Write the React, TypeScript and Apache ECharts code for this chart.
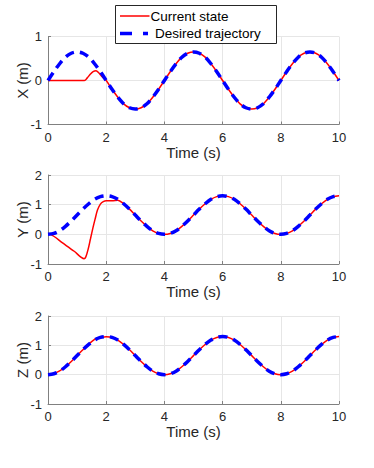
import { useEffect, useRef } from "react";
import * as echarts from "echarts";

// Common time grid (s) for the desired trajectories
const timeGrid = [
  0, 0.2, 0.4, 0.6, 0.8, 1, 1.2, 1.4, 1.6, 1.8, 2, 2.2, 2.4, 2.6, 2.8, 3, 3.2, 3.4, 3.6, 3.8,
  4, 4.2, 4.4, 4.6, 4.8, 5, 5.2, 5.4, 5.6, 5.8, 6, 6.2, 6.4, 6.6, 6.8, 7, 7.2, 7.4, 7.6, 7.8,
  8, 8.2, 8.4, 8.6, 8.8, 9, 9.2, 9.4, 9.6, 9.8, 10,
];

const xDesired = [
  0, 0.2, 0.38, 0.53, 0.62, 0.65, 0.62, 0.53, 0.38, 0.2, 0, -0.2, -0.38, -0.53, -0.62, -0.65, -0.62, -0.53, -0.38, -0.2,
  0, 0.2, 0.38, 0.53, 0.62, 0.65, 0.62, 0.53, 0.38, 0.2, 0, -0.2, -0.38, -0.53, -0.62, -0.65, -0.62, -0.53, -0.38, -0.2,
  0, 0.2, 0.38, 0.53, 0.62, 0.65, 0.62, 0.53, 0.38, 0.2, 0,
];

const yDesired = [
  0, 0.03, 0.12, 0.27, 0.45, 0.65, 0.85, 1.03, 1.18, 1.27, 1.3, 1.27, 1.18, 1.03, 0.85, 0.65, 0.45, 0.27, 0.12, 0.03,
  0, 0.03, 0.12, 0.27, 0.45, 0.65, 0.85, 1.03, 1.18, 1.27, 1.3, 1.27, 1.18, 1.03, 0.85, 0.65, 0.45, 0.27, 0.12, 0.03,
  0, 0.03, 0.12, 0.27, 0.45, 0.65, 0.85, 1.03, 1.18, 1.27, 1.3,
];

const zDesired = [
  0, 0.03, 0.12, 0.27, 0.45, 0.65, 0.85, 1.03, 1.18, 1.27, 1.3, 1.27, 1.18, 1.03, 0.85, 0.65, 0.45, 0.27, 0.12, 0.03,
  0, 0.03, 0.12, 0.27, 0.45, 0.65, 0.85, 1.03, 1.18, 1.27, 1.3, 1.27, 1.18, 1.03, 0.85, 0.65, 0.45, 0.27, 0.12, 0.03,
  0, 0.03, 0.12, 0.27, 0.45, 0.65, 0.85, 1.03, 1.18, 1.27, 1.3,
];

// Current state (actual) trajectories
const xCurrentTime = [
  0, 1.25, 1.35, 1.45, 1.55, 1.65, 1.75, 1.85, 2, 2.2, 2.4, 2.6, 2.8, 3, 3.2, 3.4, 3.6, 3.8,
  4, 4.2, 4.4, 4.6, 4.8, 5, 5.2, 5.4, 5.6, 5.8, 6, 6.2, 6.4, 6.6, 6.8, 7, 7.2, 7.4, 7.6, 7.8,
  8, 8.2, 8.4, 8.6, 8.8, 9, 9.2, 9.4, 9.6, 9.8, 10,
];
const xCurrent = [
  0, 0, 0.06, 0.14, 0.2, 0.22, 0.17, 0.09, 0, -0.2, -0.38, -0.53, -0.62, -0.65, -0.62, -0.53, -0.38, -0.2,
  0, 0.2, 0.38, 0.53, 0.62, 0.65, 0.62, 0.53, 0.38, 0.2, 0, -0.2, -0.38, -0.53, -0.62, -0.65, -0.62, -0.53, -0.38, -0.2,
  0, 0.2, 0.38, 0.53, 0.62, 0.65, 0.62, 0.53, 0.38, 0.2, 0,
];

const yCurrentTime = [
  0, 0.1, 0.5, 0.9, 1.24, 1.3, 1.38, 1.46, 1.54, 1.62, 1.7, 1.8, 1.9, 2, 2.2, 2.4, 2.6, 2.8, 3, 3.2, 3.4, 3.6, 3.8,
  4, 4.2, 4.4, 4.6, 4.8, 5, 5.2, 5.4, 5.6, 5.8, 6, 6.2, 6.4, 6.6, 6.8, 7, 7.2, 7.4, 7.6, 7.8,
  8, 8.2, 8.4, 8.6, 8.8, 9, 9.2, 9.4, 9.6, 9.8, 10,
];
const yCurrent = [
  0, -0.01, -0.29, -0.57, -0.82, -0.76, -0.5, -0.15, 0.2, 0.52, 0.82, 1.02, 1.1, 1.13, 1.13, 1.15, 1.03, 0.85, 0.65, 0.45, 0.27, 0.12, 0.03,
  0, 0.03, 0.12, 0.27, 0.45, 0.65, 0.85, 1.03, 1.18, 1.27, 1.3, 1.27, 1.18, 1.03, 0.85, 0.65, 0.45, 0.27, 0.12, 0.03,
  0, 0.03, 0.12, 0.27, 0.45, 0.65, 0.85, 1.03, 1.18, 1.27, 1.3,
];

const zCurrentTime = [
  0, 0.2, 0.4, 0.6, 0.8, 1, 1.2, 1.4, 1.6, 1.7, 1.8, 2, 2.2, 2.4, 2.6, 2.8, 3, 3.2, 3.4, 3.6, 3.8,
  4, 4.2, 4.4, 4.6, 4.8, 5, 5.2, 5.4, 5.6, 5.8, 6, 6.2, 6.4, 6.6, 6.8, 7, 7.2, 7.4, 7.6, 7.8,
  8, 8.2, 8.4, 8.6, 8.8, 9, 9.2, 9.4, 9.6, 9.8, 10,
];
const zCurrent = [
  0, 0.04, 0.13, 0.27, 0.45, 0.65, 0.85, 1.04, 1.2, 1.26, 1.27, 1.29, 1.27, 1.18, 1.03, 0.85, 0.65, 0.45, 0.27, 0.12, 0.03,
  0, 0.03, 0.12, 0.27, 0.45, 0.65, 0.85, 1.03, 1.18, 1.27, 1.3, 1.27, 1.18, 1.03, 0.85, 0.65, 0.45, 0.27, 0.12, 0.03,
  0, 0.03, 0.12, 0.27, 0.45, 0.65, 0.85, 1.03, 1.18, 1.27, 1.3,
];

const xTickInterval = 2;
const yAxisNames = ["X (m)", "Y (m)", "Z (m)"];
const yAxisMax = [1, 2, 2];
const yAxisMin = [-1, -1, -1];
const seriesNames = ["Current state", "Desired trajectory"];

const zip = (t: number[], v: number[]) => t.map((ti, i) => [ti, v[i]]);

const FONT = "Liberation Sans, Arial, Helvetica, sans-serif";
const AXIS_COLOR = "#808080";
const GRID_COLOR = "#e6e6e6";
const TEXT_COLOR = "#262626";
const RED = "#ff0000";
const BLUE = "#0000ff";

export default function App() {
  const ref = useRef<HTMLDivElement>(null);
  useEffect(() => {
    if (!ref.current) return;
    const chart = echarts.init(ref.current, null, { renderer: "svg" });
    const grids = [
      { left: 48, width: 291, top: 36.5, height: 88 },
      { left: 48, width: 291, top: 175, height: 89 },
      { left: 48, width: 291, top: 316, height: 88 },
    ];
    const xAxes = grids.map((_, i) => ({
      type: "value",
      gridIndex: i,
      min: 0,
      max: 10,
      interval: xTickInterval,
      name: "Time (s)",
      nameLocation: "middle",
      nameGap: 20,
      nameMoveOverlap: false,
      nameTextStyle: { color: TEXT_COLOR, fontSize: 15, fontFamily: FONT },
      axisLine: { show: true, onZero: false, lineStyle: { color: AXIS_COLOR, width: 1 } },
      axisTick: { show: true, inside: true, length: 3, lineStyle: { color: AXIS_COLOR } },
      splitLine: { show: true, lineStyle: { color: GRID_COLOR, width: 1 } },
      axisLabel: { color: TEXT_COLOR, fontSize: 13, fontFamily: FONT, margin: 6 },
    }));
    const yAxes = grids.map((_, i) => ({
      type: "value",
      gridIndex: i,
      min: yAxisMin[i],
      max: yAxisMax[i],
      interval: 1,
      name: yAxisNames[i],
      nameLocation: "middle",
      nameGap: 18,
      nameMoveOverlap: false,
      nameTextStyle: { color: TEXT_COLOR, fontSize: 15, fontFamily: FONT },
      axisLine: { show: true, onZero: false, lineStyle: { color: AXIS_COLOR, width: 1 } },
      axisTick: { show: true, inside: true, length: 3, lineStyle: { color: AXIS_COLOR } },
      splitLine: { show: true, lineStyle: { color: GRID_COLOR, width: 1 } },
      axisLabel: { color: TEXT_COLOR, fontSize: 13, fontFamily: FONT, margin: 6 },
    }));
    const currents = [zip(xCurrentTime, xCurrent), zip(yCurrentTime, yCurrent), zip(zCurrentTime, zCurrent)];
    const desireds = [zip(timeGrid, xDesired), zip(timeGrid, yDesired), zip(timeGrid, zDesired)];
    const series: any[] = [];
    for (let i = 0; i < 3; i++) {
      series.push({
        type: "line",
        name: seriesNames[0],
        xAxisIndex: i,
        yAxisIndex: i,
        data: currents[i],
        smooth: 0.3,
        symbol: "none",
        showSymbol: false,
        lineStyle: { color: RED, width: 1.5 },
        itemStyle: { color: RED },
        z: 2,
      });
      series.push({
        type: "line",
        name: seriesNames[1],
        xAxisIndex: i,
        yAxisIndex: i,
        data: desireds[i],
        smooth: 0.3,
        symbol: "none",
        showSymbol: false,
        lineStyle: { color: BLUE, width: 3.5, type: [9, 6] },
        itemStyle: { color: BLUE },
        z: 3,
      });
    }
    const legendGraphic = {
      type: "group",
      z: 100,
      children: [
        {
          type: "rect",
          shape: { x: 115.5, y: 5.5, width: 161, height: 38 },
          style: { fill: "#ffffff", stroke: TEXT_COLOR, lineWidth: 1 },
          z: 100,
        },
        {
          type: "line",
          shape: { x1: 120, y1: 16, x2: 149.5, y2: 16 },
          style: { stroke: RED, lineWidth: 1.5 },
          z: 101,
        },
        {
          type: "text",
          x: 150.5,
          y: 16,
          style: {
            text: seriesNames[0],
            fill: "#000",
            fontSize: 13.5,
            fontFamily: FONT,
            verticalAlign: "middle",
            align: "left",
          },
          z: 101,
        },
        {
          type: "line",
          shape: { x1: 120, y1: 33.5, x2: 148, y2: 33.5 },
          style: { stroke: BLUE, lineWidth: 3.5, lineDash: [12, 11] },
          z: 101,
        },
        {
          type: "text",
          x: 155,
          y: 33.5,
          style: {
            text: seriesNames[1],
            fill: "#000",
            fontSize: 13.5,
            fontFamily: FONT,
            verticalAlign: "middle",
            align: "left",
          },
          z: 101,
        },
      ],
    };
    chart.setOption({
      animation: false,
      backgroundColor: "#ffffff",
      grid: grids,
      xAxis: xAxes,
      yAxis: yAxes,
      graphic: [legendGraphic],
      series,
    });
    return () => chart.dispose();
  }, []);
  return (
    <div
      ref={ref}
      style={{ position: "absolute", left: 0, top: 0, width: 374, height: 468 }}
    />
  );
}
